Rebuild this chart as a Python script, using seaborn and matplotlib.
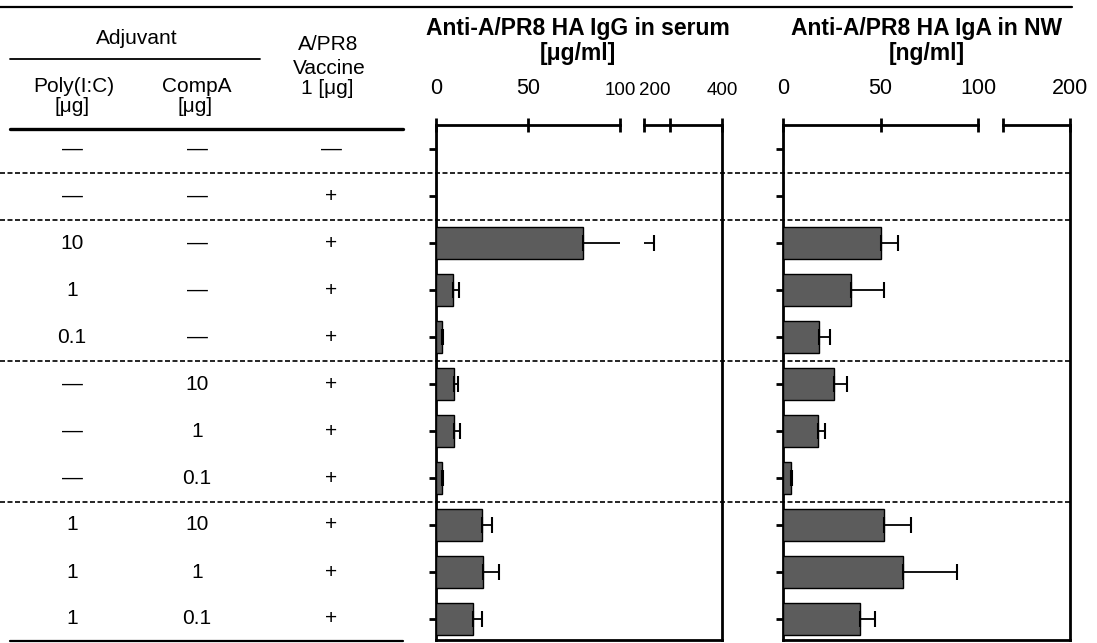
import numpy as np
import pandas as pd
import matplotlib
matplotlib.use("Agg")
import matplotlib.pyplot as plt
import seaborn as sns
from matplotlib import font_manager
from matplotlib.transforms import blended_transform_factory as blend
from matplotlib.lines import Line2D

# ---------------- data ----------------
poly_ic = ["—", "—", "10", "1", "0.1", "—", "—", "—", "1", "1", "1"]
comp_a = ["—", "—", "—", "—", "—", "10", "1", "0.1", "10", "1", "0.1"]
vaccine = ["—", "+", "+", "+", "+", "+", "+", "+", "+", "+", "+"]
group = [0, 1, 2, 2, 2, 3, 3, 3, 4, 4, 4]

igg_mean = [0, 0, 80, 9.4, 3.0, 9.8, 9.9, 3.2, 25, 25.7, 20]
igg_err = [0, 0, 58, 3.1, 0.6, 2.2, 3.1, 0.5, 5.4, 8.3, 5.0]
iga_mean = [0, 0, 50, 35, 18.5, 26, 18, 4.0, 52, 61.5, 39.5]
iga_err = [0, 0, 9, 17, 5.5, 7, 3.5, 0.8, 13.6, 27.5, 7.5]

igg_lim_a, igg_lim_b = (0, 100), (100, 400)
igg_ticks_a, igg_ticks_b = [0, 50, 100], [100, 200, 400]
igg_labels_a, igg_labels_b = ["0", "50", "100"], ["", "200", "400"]
iga_lim_a, iga_lim_b = (0, 100), (100, 200)
iga_ticks_a, iga_ticks_b = [0, 50, 100], [100, 200]
iga_labels_a, iga_labels_b = ["0", "50", "100"], ["", "200"]

igg_title = "Anti-A/PR8 HA IgG in serum"
igg_unit = "[μg/ml]"
iga_title = "Anti-A/PR8 HA IgA in NW"
iga_unit = "[ng/ml]"

cond = [f"{p} | {c} | {v}" for p, c, v in zip(poly_ic, comp_a, vaccine)]
df = pd.DataFrame({"cond": cond, "igg": igg_mean, "igg_err": igg_err,
                   "iga": iga_mean, "iga_err": iga_err})
n = len(df)

# ---------------- style ----------------
sns.set_theme(style="white")
plt.rcParams["font.family"] = ["Liberation Sans", "DejaVu Sans"]
plt.rcParams["text.color"] = "black"
plt.rcParams["xtick.color"] = "black"
plt.rcParams["ytick.color"] = "black"
BAR = "#5c5c5c"
FS = 15
TFS = 15.5
installed = {f.name for f in font_manager.fontManager.ttflist}
NARROW = "Liberation Sans Narrow" if "Liberation Sans Narrow" in installed else None

W, H = 1097, 643
fig = plt.figure(figsize=(W / 100, H / 100), dpi=100)


def box(x0, x1, y0, y1):
    return [x0 / W, 1 - y1 / H, (x1 - x0) / W, (y1 - y0) / H]


overlay = fig.add_axes([0, 0, 1, 1])
overlay.set_xlim(0, W)
overlay.set_ylim(H, 0)
overlay.axis("off")

TOP, BOT = 125, 640
ROW0, ROWSTEP = 149, 47
YLIM = ((BOT - ROW0) / ROWSTEP, (TOP - ROW0) / ROWSTEP)


def panel(x0, xa1, xb0, x1, col, ecol, lims, ticks, labels):
    frame = fig.add_axes(box(x0, x1, TOP, BOT))
    frame.set_xticks([])
    frame.set_yticks([])
    frame.patch.set_alpha(0)
    frame.spines["top"].set_visible(False)
    for s in ["left", "right", "bottom"]:
        frame.spines[s].set_linewidth(2)
        frame.spines[s].set_color("black")
    axes = []
    for (a0, a1), lim, tk, lb in zip([(x0, xa1), (xb0, x1)], lims, ticks, labels):
        ax = fig.add_axes(box(a0, a1, TOP, BOT))
        ax.patch.set_alpha(0)
        sns.barplot(data=df, x=col, y="cond", order=cond, orient="h",
                    color=BAR, saturation=1, width=0.68, errorbar=None,
                    edgecolor="black", linewidth=1.0, ax=ax)
        mask = (df[col] > 0).to_numpy()
        ax.errorbar(df.loc[mask, col], np.arange(n)[mask],
                    xerr=[np.zeros(mask.sum()), df.loc[mask, ecol]],
                    fmt="none", ecolor="black", elinewidth=1.3,
                    capsize=6, capthick=1.5)
        ax.set_xlim(*lim)
        ax.set_ylim(*YLIM)
        ax.xaxis.tick_top()
        ax.set_xticks(tk)
        ax.set_xticklabels(lb)
        ax.tick_params(axis="x", direction="inout", length=10, width=2,
                       pad=14, labelsize=TFS, colors="black")
        for s in ["left", "right", "bottom"]:
            ax.spines[s].set_visible(False)
        ax.spines["top"].set_linewidth(2)
        ax.spines["top"].set_color("black")
        ax.set_xlabel("")
        ax.set_ylabel("")
        axes.append(ax)
    axes[0].tick_params(axis="y", direction="out", length=5, width=2,
                        labelleft=False, left=True, colors="black")
    axes[1].set_yticks([])
    return axes


igg_axes = panel(436, 620, 644, 722, "igg", "igg_err",
                 (igg_lim_a, igg_lim_b), (igg_ticks_a, igg_ticks_b),
                 (igg_labels_a, igg_labels_b))
iga_axes = panel(783, 978, 1003, 1070, "iga", "iga_err",
                 (iga_lim_a, iga_lim_b), (iga_ticks_a, iga_ticks_b),
                 (iga_labels_a, iga_labels_b))

# condensed labels around the IgG axis break
lab_a = igg_axes[0].get_xticklabels()
lab_b = igg_axes[1].get_xticklabels()
for t in [lab_a[2], lab_b[1], lab_b[2]]:
    if NARROW:
        t.set_fontfamily([NARROW, "Liberation Sans"])
    else:
        t.set_fontsize(13.5)
lab_b[1].set_ha("right")

# titles
for xc, t, u in [(578, igg_title, igg_unit), (927, iga_title, iga_unit)]:
    overlay.text(xc, 35, t, ha="center", va="baseline", fontsize=16.5,
                 fontweight="bold")
    overlay.text(xc, 60, u, ha="center", va="baseline", fontsize=16.5,
                 fontweight="bold")

# table header
hdr = dict(ha="center", va="center", fontsize=FS)
overlay.text(137, 38, "Adjuvant", **hdr)
overlay.text(74, 86, "Poly(I:C)", **hdr)
overlay.text(72, 107, "[μg]", **hdr)
overlay.text(197, 86, "CompA", **hdr)
overlay.text(195, 107, "[μg]", **hdr)
overlay.text(328, 44, "A/PR8", **hdr)
overlay.text(329, 68, "Vaccine", **hdr)
overlay.text(327, 88, "1 [μg]", **hdr)

overlay.add_line(Line2D([0, 1072], [7, 7], color="black", lw=1.6))
overlay.add_line(Line2D([10, 260], [59, 59], color="black", lw=1.3))
overlay.add_line(Line2D([10, 403], [129, 129], color="black", lw=2.4))
overlay.add_line(Line2D([10, 403], [641, 641], color="black", lw=1.6))

# table rows + dashed separators (y in bar-axis data units)
tr = blend(overlay.transData, igg_axes[0].transData)
for i in range(n):
    for xc, val in [(72, poly_ic[i]), (197, comp_a[i]), (331, vaccine[i])]:
        overlay.text(xc, i, val, transform=tr, ha="center", va="center",
                     fontsize=FS)
for i in range(n - 1):
    if group[i] != group[i + 1]:
        overlay.add_line(Line2D([0, 1070], [i + 0.5, i + 0.5], transform=tr,
                                color="black", lw=1.2, ls=(0, (3, 1.5))))

fig.savefig("out.png", dpi=100)
